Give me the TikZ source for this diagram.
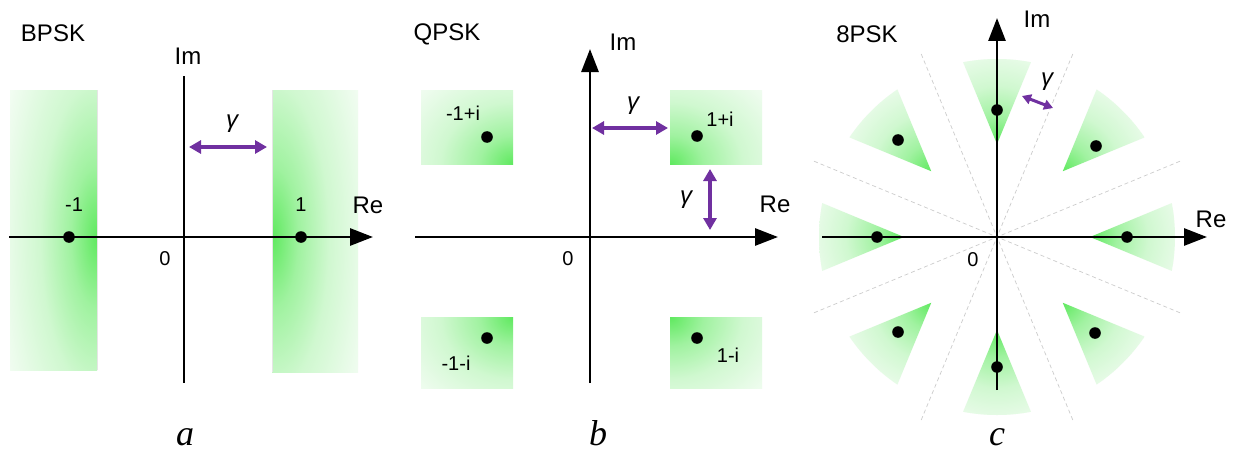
\documentclass[tikz,border=0pt]{standalone}
\usepackage{fontspec}
\setmainfont{Liberation Sans}
\newfontfamily\capserif{Liberation Serif}
\usetikzlibrary{arrows.meta}
\definecolor{gA}{RGB}{95,233,95}
\definecolor{gB}{RGB}{160,242,160}
\definecolor{gC}{RGB}{208,248,208}
\definecolor{gE}{RGB}{232,251,232}
\definecolor{gD}{RGB}{248,254,248}
\definecolor{arrp}{RGB}{112,48,160}
\pgfdeclareradialshading{glow}{\pgfpoint{0bp}{0bp}}{color(0bp)=(gA); color(6bp)=(gB); color(13bp)=(gC); color(20bp)=(gE); color(25bp)=(gD); color(50bp)=(gD)}
\begin{document}
\begin{tikzpicture}[x=1pt,y=-1pt,
  axisline/.style={line width=2.8pt, black},
  axtip/.style={-{Triangle[length=23pt,width=17pt]}},
  garrow/.style={line width=3.2pt, arrp, {Triangle[length=12pt,width=13pt]}-{Triangle[length=12pt,width=13pt]}},
  sgarrow/.style={line width=3pt, arrp, {Triangle[length=9pt,width=10pt]}-{Triangle[length=9pt,width=10pt]}},
  dline/.style={gray!40, line width=0.7pt, dash pattern=on 4pt off 3pt},
  edgeline/.style={gray!20, line width=0.6pt},
  lbl/.style={inner sep=0pt, font=\fontsize{24}{26}\selectfont},
  num/.style={inner sep=0pt, font=\fontsize{20}{22}\selectfont},
  gam/.style={inner sep=0pt, font=\fontsize{24}{26}\selectfont\itshape},
  captext/.style={inner sep=0pt, anchor=base, font=\fontsize{36}{38}\selectfont\capserif\itshape}]
\useasboundingbox (0,0) rectangle (1233,452);
\fill[white] (0,0) rectangle (1233,452);

% ---------- panel a: BPSK ----------
\begin{scope}
  \clip (10,90) rectangle (97,370);
  \fill[gD] (10,90) rectangle (97,370);
  \shade[shading=glow] (97,237) ellipse [x radius=110pt, y radius=300pt];
\end{scope}
\begin{scope}
  \clip (272,90) rectangle (358,372);
  \fill[gD] (272,90) rectangle (358,372);
  \shade[shading=glow] (272,237) ellipse [x radius=110pt, y radius=300pt];
\end{scope}
\draw[edgeline] (97,90) -- (97,370);
\draw[edgeline] (272,90) -- (272,372);

\draw[axisline, axtip] (9,237) -- (373,237);
\draw[axisline] (184,76) -- (184,383);
\fill (69,237) circle (5.8);
\fill (301,237) circle (5.8);
\coordinate (a1) at (189,147);
\coordinate (a2) at (267,147);
\draw[garrow] (a1) -- (a2);

\node[lbl] (tA) at (53,33) {BPSK};
\node[lbl] (imA) at (188,56) {Im};
\node[lbl] (reA) at (368,205) {Re};
\node[gam] (gA1) at (232,124) {γ};
\node[num] (mA) at (74,205) {-1};
\node[num] (pA) at (301,205) {1};
\node[num] (zA) at (165,259) {0};
\node[captext] (capA) at (185,445) {a};

% ---------- panel b: QPSK ----------
\begin{scope}
  \clip (421,90) rectangle (513,164);
  \fill[gD] (421,90) rectangle (513,164);
  \shade[shading=glow] (513,164) ellipse [x radius=140pt, y radius=120pt];
\end{scope}
\begin{scope}
  \clip (670,90) rectangle (762,164);
  \fill[gD] (670,90) rectangle (762,164);
  \shade[shading=glow] (670,164) ellipse [x radius=140pt, y radius=120pt];
\end{scope}
\begin{scope}
  \clip (421,317) rectangle (513,388);
  \fill[gD] (421,317) rectangle (513,388);
  \shade[shading=glow] (513,317) ellipse [x radius=140pt, y radius=120pt];
\end{scope}
\begin{scope}
  \clip (670,317) rectangle (762,388);
  \fill[gD] (670,317) rectangle (762,388);
  \shade[shading=glow] (670,317) ellipse [x radius=140pt, y radius=120pt];
\end{scope}

\draw[axisline, axtip] (415,237) -- (778,237);
\draw[axisline, axtip] (590,383) -- (590,49);
\fill (487,137) circle (5.8);
\fill (697,136) circle (5.8);
\fill (487,338) circle (5.8);
\fill (697,338) circle (5.8);
\coordinate (b1) at (592,128);
\coordinate (b2) at (668,128);
\coordinate (b3) at (710,169);
\coordinate (b4) at (710,230);
\draw[garrow] (b1) -- (b2);
\draw[garrow] (b3) -- (b4);

\node[lbl] (tB) at (447,34) {QPSK};
\node[lbl] (imB) at (623,42) {Im};
\node[lbl] (reB) at (775,204) {Re};
\node[num] (q1) at (463,113) {-1+i};
\node[num] (q2) at (720,119) {1+i};
\node[num] (q3) at (456,363) {-1-i};
\node[num] (q4) at (728,355) {1-i};
\node[num] (zB) at (568,259) {0};
\node[gam] (gB1) at (633,106) {γ};
\node[gam] (gB2) at (686,200) {γ};
\node[captext] (capB) at (598,445) {b};

% ---------- panel c: 8PSK ----------
\begin{scope}[shift={(997,237)}, yscale=-1]
  \foreach \t in {0,45,...,315}{
    \begin{scope}
      \clip (0,0) circle (178);
      \clip (\t:93) -- ++(\t+22.5:260) -- ++(\t-90:199) -- cycle;
      \fill[gD] (0,0) circle (178);
      \shade[shading=glow] (\t:93) circle (112);
    \end{scope}
  }
  \foreach \t in {22.5,67.5,112.5,157.5}
    \draw[dline] (\t:198) -- (\t+180:198);
\end{scope}

\draw[axisline, axtip] (822,237) -- (1207,237);
\draw[axisline, axtip] (997,390) -- (997,18);
\foreach \p in {(997,110),(1127,237),(877,237),(997,367),(898,140),(1096,146),(898,332),(1095,333)}
  \fill \p circle (5.8);
\coordinate (c1) at (1022,96);
\coordinate (c2) at (1053,108);
\draw[sgarrow] (c1) -- (c2);

\node[lbl] (tC) at (867,34) {8PSK};
\node[lbl] (imC) at (1037,19) {Im};
\node[lbl] (reC) at (1211,219) {Re};
\node[num] (zC) at (973,260) {0};
\node[gam] (gC1) at (1047,82) {γ};
\node[captext] (capC) at (997,445) {c};
\end{tikzpicture}
\end{document}
